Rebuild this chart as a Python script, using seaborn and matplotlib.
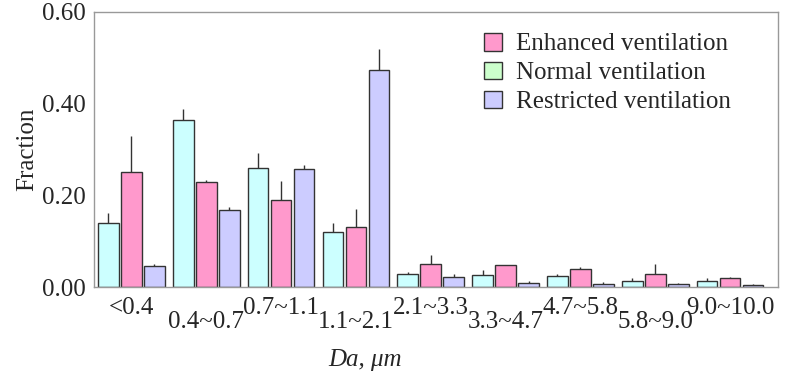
import matplotlib
matplotlib.use("Agg")
import matplotlib.pyplot as plt
from matplotlib.patches import Patch
import seaborn as sns
import pandas as pd

categories = ["<0.4", "0.4~0.7", "0.7~1.1", "1.1~2.1", "2.1~3.3",
              "3.3~4.7", "4.7~5.8", "5.8~9.0", "9.0~10.0"]
series_names = ["Normal ventilation", "Enhanced ventilation", "Restricted ventilation"]
normal_vals = [0.140, 0.365, 0.259, 0.121, 0.028, 0.026, 0.023, 0.014, 0.014]
enhanced_vals = [0.250, 0.230, 0.190, 0.132, 0.051, 0.049, 0.039, 0.028, 0.019]
restricted_vals = [0.046, 0.168, 0.257, 0.473, 0.021, 0.009, 0.006, 0.006, 0.004]
normal_err = [0.021, 0.024, 0.033, 0.019, 0.005, 0.011, 0.005, 0.005, 0.005]
enhanced_err = [0.080, 0.004, 0.042, 0.038, 0.018, 0.0, 0.005, 0.022, 0.002]
restricted_err = [0.004, 0.007, 0.010, 0.047, 0.007, 0.005, 0.005, 0.003, 0.003]
yticks = [0.0, 0.2, 0.4, 0.6]

bar_colors = {"Normal ventilation": "#CCFFFF",
              "Enhanced ventilation": "#FF99CC",
              "Restricted ventilation": "#CCCCFF"}
legend_colors = {"Enhanced ventilation": "#FF99CC",
                 "Normal ventilation": "#CCFFCC",
                 "Restricted ventilation": "#CCCCFF"}

sns.set_theme(style="white")
plt.rcParams["font.family"] = ["Liberation Serif", "DejaVu Serif"]

rows = []
for name, vals in zip(series_names, [normal_vals, enhanced_vals, restricted_vals]):
    for c, v in zip(categories, vals):
        rows.append({"Da": c, "Fraction": v, "Series": name})
df = pd.DataFrame(rows)
errs = [normal_err, enhanced_err, restricted_err]

FS = 18
fig = plt.figure(figsize=(7.87, 3.76), dpi=100)
ax = fig.add_axes([94 / 787, 89 / 376, 684 / 787, 275 / 376])

sns.barplot(data=df, x="Da", y="Fraction", hue="Series", hue_order=series_names,
            order=categories, palette=bar_colors, saturation=1, width=0.92, gap=0.1,
            edgecolor="#333333", linewidth=1.0, errorbar=None, legend=False, ax=ax)

for cont, err in zip(ax.containers, errs):
    for bar, e in zip(cont, err):
        if e > 0:
            xc = bar.get_x() + bar.get_width() / 2
            h = bar.get_height()
            ax.vlines(xc, h, h + e, color="#333333", linewidth=1.0, zorder=3)

ax.set_xlim(-0.5, 8.64)
ax.set_ylim(0, 0.6)
ax.set_yticks(yticks)
ax.set_yticklabels([f"{t:.2f}" for t in yticks], fontsize=FS)
ax.tick_params(axis="both", length=0)
ax.tick_params(axis="y", pad=6)
ax.set_xticks(range(len(categories)))
ax.set_xticklabels(categories, fontsize=FS)
for i, tick in enumerate(ax.xaxis.get_major_ticks()):
    tick.set_pad(7 if i % 2 == 0 else 17.5)

for sp in ax.spines.values():
    sp.set_color("#999999")
    sp.set_linewidth(1.0)

ax.set_ylabel("Fraction", fontsize=FS, labelpad=3)
ax.set_xlabel("")
ax.text(0.396, -0.225, "Da, \u03bcm", transform=ax.transAxes, fontsize=FS,
        style="italic", ha="center", va="top")

legend_order = ["Enhanced ventilation", "Normal ventilation", "Restricted ventilation"]
handles = [Patch(facecolor=legend_colors[n], edgecolor="#333333", linewidth=1.0, label=n)
           for n in legend_order]
ax.legend(handles=handles, loc="upper left", bbox_to_anchor=(0.556, 0.96),
          frameon=False, fontsize=FS, handlelength=0.7, handleheight=0.7,
          handletextpad=0.55, labelspacing=0.25, borderaxespad=0)

fig.savefig("out.png", dpi=100)
